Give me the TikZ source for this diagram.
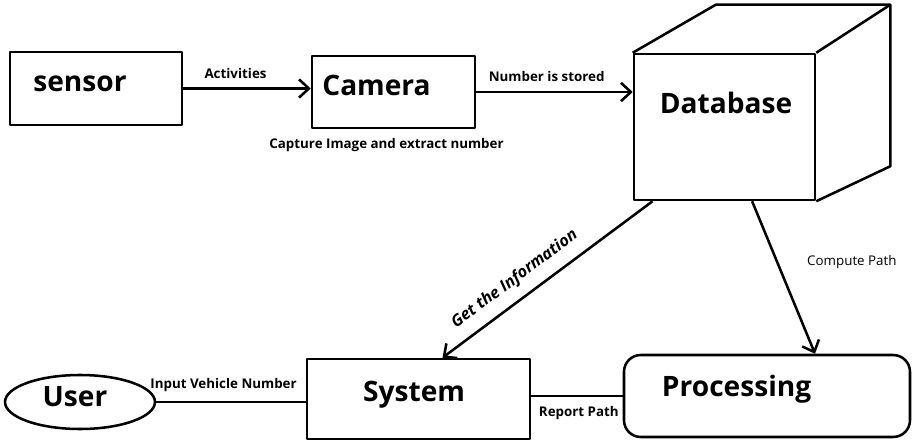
\documentclass[tikz,border=0pt]{standalone}
\usepackage{fontspec}
\setmainfont{Open Sans}
\usetikzlibrary{arrows.meta,shapes.geometric}

\begin{document}
\begin{tikzpicture}[
  line width=1.8pt, line join=round,
  box/.style={draw, rectangle, inner sep=0pt},
  big/.style={font=\fontsize{20}{24}\selectfont\bfseries},
  small/.style={font=\fontsize{9.5}{11}\selectfont\bfseries},
  flow/.style={-{Straight Barb[length=7pt,width=13pt]}}
]
\useasboundingbox (0,0) rectangle (22.85,11.075);

% top row
\node[box, minimum width=4.3cm, minimum height=1.825cm,
  label={[big, xshift=-0.4cm, yshift=0.11cm]center:sensor}] (sensor) at (2.4,8.8625) {};
\node[box, minimum width=4.075cm, minimum height=1.8cm,
  label={[big, xshift=-0.425cm, yshift=0.175cm]center:Camera},
  label={[small, xshift=-0.175cm, label distance=2pt]below:Capture Image and extract number}] (camera) at (9.8375,8.775) {};

% database drawn as a box in perspective
\node[box, minimum width=4.525cm, minimum height=3.65cm,
  label={[big, xshift=0.04cm, yshift=0.59cm]center:Database}] (db) at (18.1125,7.9) {};
\draw (db.north west) -- ([shift={(2.075,1.2)}]db.north west)
  -- ([shift={(1.85,1.2)}]db.north east) -- ([shift={(1.85,0.875)}]db.south east)
  -- (db.south east);
\draw (db.north east) -- ([shift={(1.85,1.2)}]db.north east);

% bottom row
\node[draw, ellipse, minimum width=3.75cm, minimum height=1.35cm, inner sep=0pt,
  label={[big, xshift=-0.125cm, yshift=0.13cm]center:User}] (user) at (2.0,1.025) {};
\node[box, minimum width=5.575cm, minimum height=2cm,
  label={[big, xshift=-0.11cm, yshift=0.1cm]center:System}] (system) at (10.4625,1.1) {};
\node[box, rounded corners=0.42cm, minimum width=7.15cm, minimum height=2.05cm,
  label={[big, xshift=-0.76cm, yshift=0.175cm]center:Processing}] (proc) at (19.175,1.175) {};

% connectors
\draw[flow] (sensor.east) -- (sensor.east -| camera.west)
  node[small, above=3pt, pos=0.41] {Activities};
\draw[flow] (camera.east) -- (camera.east -| db.west)
  node[small, above=3pt, pos=0.45] {Number is stored};
\draw[flow] ([xshift=-1.8cm]db.south) -- ([xshift=0.6cm]system.north)
  node[sloped, above=4pt, pos=0.6, font=\fontsize{11.5}{13}\selectfont\bfseries\itshape] {Get the Information};
\draw[flow] ([xshift=0.69cm]db.south) -- ([xshift=1.2cm]proc.north)
  node[pos=0.4, right=0.6cm, font=\fontsize{9.5}{11}\selectfont] {Compute Path};
\draw (user.east) -- (user.east -| system.west)
  node[small, above=3pt, pos=0.45] {Input Vehicle Number};
\draw (proc.west) -- (proc.west -| system.east)
  node[small, below=3pt, pos=0.48] {Report Path};

\end{tikzpicture}
\end{document}
